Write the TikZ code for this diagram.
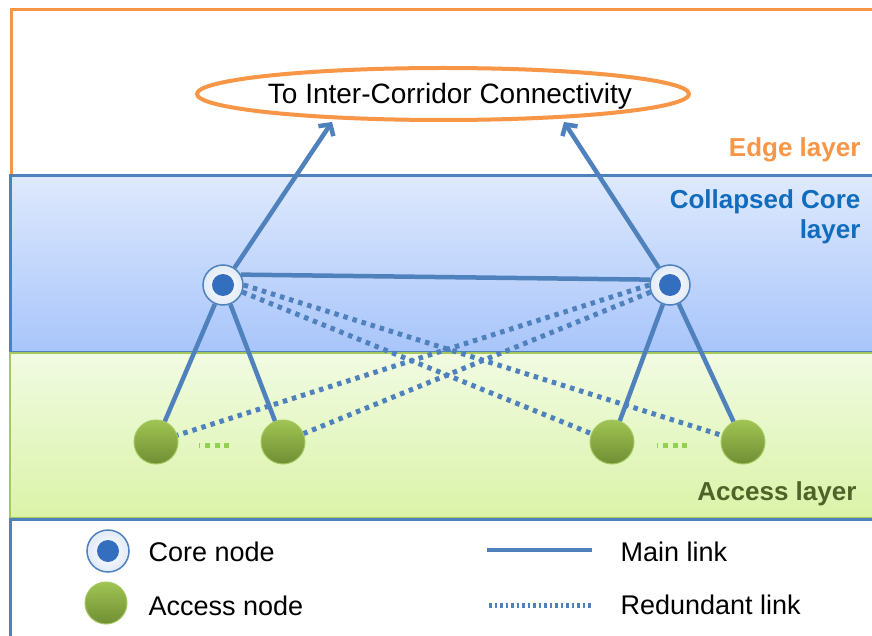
\documentclass[tikz,border=0pt]{standalone}
\usepackage{fontspec}
\setmainfont{Liberation Sans}
\usepackage{tikz}
\usetikzlibrary{arrows.meta}
\usetikzlibrary{shapes.geometric}
\usetikzlibrary{positioning, calc}
\definecolor{edgeorange}{RGB}{247,150,70}
\definecolor{linkblue}{RGB}{79,129,189}
\definecolor{coreblue}{RGB}{52,110,190}
\definecolor{corelabel}{RGB}{18,108,190}
\definecolor{acctop}{RGB}{160,196,82}
\definecolor{accbottom}{RGB}{112,142,52}
\definecolor{accrim}{RGB}{165,200,95}
\definecolor{acclabel}{RGB}{79,98,40}
\definecolor{dotgreen}{RGB}{146,208,80}
\definecolor{coretop}{RGB}{222,233,253}
\definecolor{corebottom}{RGB}{168,197,250}
\definecolor{acctopfill}{RGB}{241,251,226}
\definecolor{accbotfill}{RGB}{218,243,168}

\begin{document}
\begin{tikzpicture}[x=1pt, y=-1pt,
    mainlink/.style={draw=linkblue, line width=4.5pt},
    redlink/.style={draw=linkblue, line width=5pt, dash pattern=on 4.5pt off 5pt},
    corenode/.style={circle, draw=linkblue, line width=1.5pt, minimum size=40pt,
        inner sep=0pt, inner color=white, outer color=coretop!70!linkblue!40,
        path picture={\fill[coreblue] (path picture bounding box.center) circle (11pt);}},
    accnode/.style={circle, draw=accrim, line width=1pt, minimum size=44pt,
        inner sep=0pt, top color=acctop, bottom color=accbottom},
    accdots/.style={draw=dotgreen, line width=5pt,
        dash pattern=on 1pt off 5pt on 5pt off 4.5pt on 5pt off 4.5pt on 5pt off 50pt},
    layertext/.style={font=\fontsize{26}{30}\selectfont\bfseries, align=right, anchor=east},
    legtext/.style={font=\fontsize{27}{30}\selectfont, anchor=west}]
\useasboundingbox (0,0) rectangle (872,636);

% layers
\draw[edgeorange, line width=3pt, fill=white] (11,10) rectangle (890,176);
\draw[linkblue, line width=3pt, top color=coretop, bottom color=corebottom]
    (10,176) rectangle (890,352);
\draw[accrim, line width=1.5pt, top color=acctopfill, bottom color=accbotfill]
    (10,353) rectangle (890,518);
\draw[linkblue, line width=3pt, fill=white] (10,519) rectangle (890,660);

\node[layertext, text=edgeorange] at (864,150) {Edge layer};
\node[layertext, text=corelabel] at (864,217) {Collapsed Core\\layer};
\node[layertext, text=acclabel] at (860,494) {Access layer};

% target
\node[ellipse, draw=edgeorange, line width=4pt, minimum width=492pt,
    minimum height=52pt, inner sep=0pt] (cloud) at (443,94) {};
\node[font=\fontsize{28}{30}\selectfont] (cloudtext) at (450,96)
    {To Inter-Corridor Connectivity};
\coordinate (in1) at (332,122);
\coordinate (in2) at (564,122);

% nodes
\node[corenode] (core1) at (223,285) {};
\node[corenode] (core2) at (670,285) {};

\foreach \n/\x in {1/156, 2/283, 3/612, 4/743}
    \node[accnode] (acc\n) at (\x,442) {};

\draw[accdots] (199,445) -- (232,445);
\draw[accdots] (657,445) -- (690,445);

% links
\draw[redlink] (core1.east) -- (acc4);
\draw[redlink] (core1.-20) -- (acc3);
\draw[redlink] (core2.west) -- (acc1);
\draw[redlink] (core2.200) -- (acc2);

\draw[mainlink] (core1.30) -- (core2.165);
\foreach \c/\a in {1/1, 1/2, 2/3, 2/4}
    \draw[mainlink] (core\c) -- (acc\a);

\draw[mainlink, -{Straight Barb[length=8pt, width=18pt]}] (core1) -- (in1);
\draw[mainlink, -{Straight Barb[length=8pt, width=18pt]}] (core2) -- (in2);

% legend
\node[corenode, minimum size=42pt] (legcore) at (108,551) {};
\node[accnode, minimum size=42pt] (legacc) at (106,603) {};
\node[legtext] (legcoretext) at (145,552) {Core node};
\node[legtext] (legacctext) at (145,606) {Access node};

\draw[mainlink] (487,550) -- (592,550);
\draw[redlink, dash pattern=on 2.5pt off 3pt] (489,605) -- (593,605);
\node[legtext] (legmain) at (617,552) {Main link};
\node[legtext] (legred) at (617,605) {Redundant link};

\end{tikzpicture}
\end{document}
